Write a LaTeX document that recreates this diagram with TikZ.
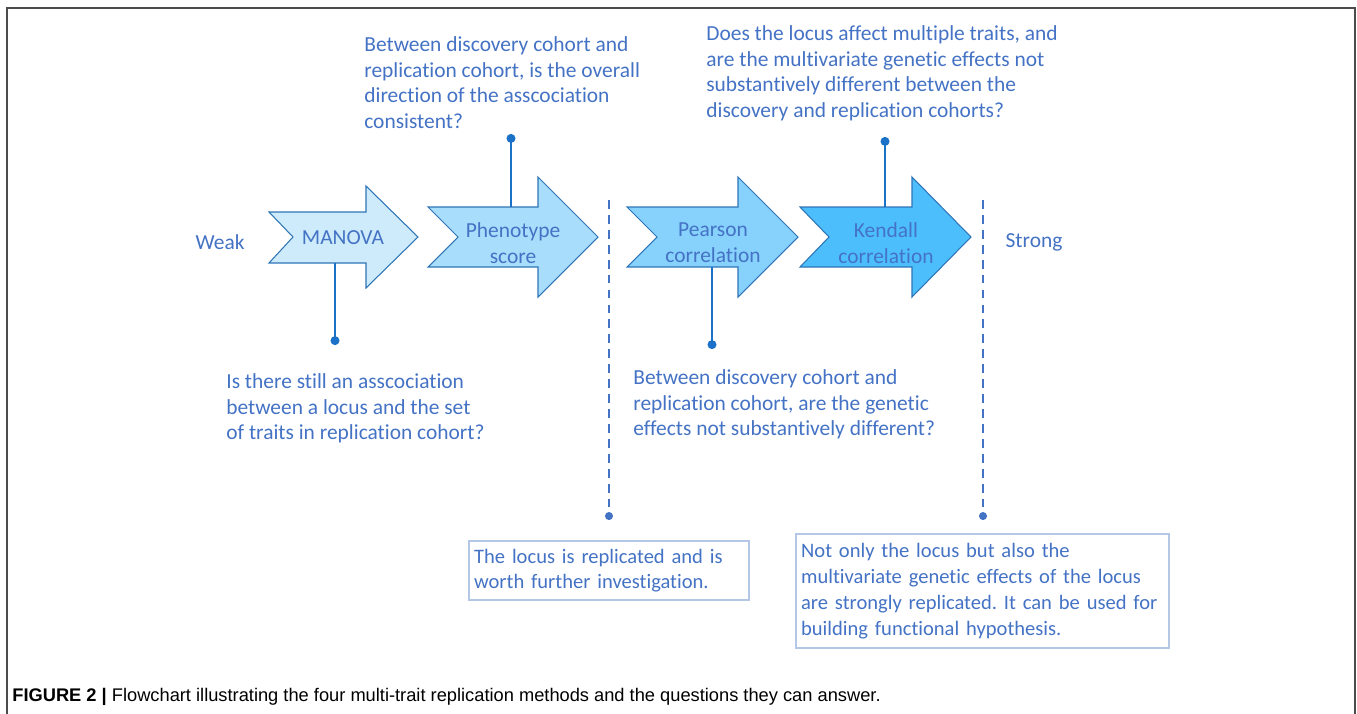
\documentclass[tikz,border=0pt]{standalone}
\usepackage{fontspec}
\setmainfont{Carlito}[Ligatures=NoCommon]
\newfontfamily\capfont{Liberation Sans}
\usepackage{xcolor}
\usetikzlibrary{positioning,arrows.meta}
\definecolor{txtblue}{HTML}{4472C4}
\definecolor{edgeblue}{HTML}{2E75B6}
\definecolor{stemblue}{HTML}{1B70C8}
\definecolor{boxblue}{HTML}{B4C7E7}
\definecolor{fillA}{HTML}{CDEBFB}
\definecolor{fillB}{HTML}{A8DDFB}
\definecolor{fillC}{HTML}{87D1FD}
\definecolor{fillD}{HTML}{4DBEFC}
\frenchspacing

\begin{document}
\begin{tikzpicture}[x=0.02cm,y=-0.02cm,font=\fontsize{12.2}{14.7}\selectfont,text=txtblue,
	flow/.style={draw=edgeblue,line width=0.6pt},
	label/.style={align=center,inner sep=0pt},
	question/.style={align=left,anchor=north west,inner sep=0pt},
	stem/.style={draw=stemblue,line width=1.7pt,-{Circle[length=5pt]}},
	divider/.style={draw=txtblue,line width=1.1pt,dash pattern=on 5pt off 3.5pt,-{Circle[length=4.5pt]}},
	result/.style={draw=boxblue,line width=1.3pt,align=left,anchor=north west,inner xsep=0.1cm,inner ysep=0pt,font=\fontsize{11.7}{14.7}\selectfont}]
	\useasboundingbox (0,0) rectangle (1357,714);
	% frame
	\draw[gray!60!black,line width=1pt] (7,714) -- (7,8) -- (1355,8) -- (1355,714);

	% the four methods
	\draw[flow,fill=fillA] (269,212) -- (366,212) -- (366,186) -- (418,237) -- (366,288) -- (366,263) -- (269,263) -- (293,237) -- cycle;
	\draw[flow,fill=fillB] (428,207) -- (538,207) -- (538,177) -- (598,237) -- (538,297) -- (538,267) -- (428,267) -- (458,237) -- cycle;
	\draw[flow,fill=fillC] (627,207) -- (738,207) -- (738,177) -- (798,237) -- (738,297) -- (738,267) -- (627,267) -- (657,237) -- cycle;
	\draw[flow,fill=fillD] (800,207) -- (912,207) -- (912,177) -- (971,237) -- (912,297) -- (912,267) -- (800,267) -- (829,237) -- cycle;

	\node[label] (manova) at (343,238) {MANOVA};
	\node[label] (pheno) at (513,243) {Phenotype\\score};
	\node[label] (pearson) at (713,243) {Pearson\\correlation};
	\node[label] (kendall) at (886,243) {Kendall\\correlation};

	\node (weak) at (220,242) {Weak};
	\node (strong) at (1034,242) {Strong};

	% questions
	\node[question] (q-pheno) at (364,36) {Between discovery cohort and\\replication cohort, is the overall\\direction of the asscociation\\consistent?};
	\node[question] (q-kendall) at (706,25) {Does the locus affect multiple traits, and\\are the multivariate genetic effects not\\substantively different between the\\discovery and replication cohorts?};
	\node[question] (q-manova) at (226,373) {Is there still an asscociation\\between a locus and the set\\of traits in replication cohort?};
	\node[question] (q-pearson) at (633,369) {Between discovery cohort and\\replication cohort, are the genetic\\effects not substantively different?};

	\coordinate (manova-s) at (335,263);
	\coordinate (manova-d) at (335,345);
	\coordinate (pheno-s) at (511,207);
	\coordinate (pheno-d) at (511,134);
	\coordinate (pearson-s) at (712,267);
	\coordinate (pearson-d) at (712,349);
	\coordinate (kendall-s) at (885,207);
	\coordinate (kendall-d) at (885,137);
	\draw[stem] (manova-s) -- (manova-d);
	\draw[stem] (pheno-s) -- (pheno-d);
	\draw[stem] (pearson-s) -- (pearson-d);
	\draw[stem] (kendall-s) -- (kendall-d);

	% thresholds
	\coordinate (cut1) at (609,200);
	\coordinate (cut1-d) at (609,520);
	\coordinate (cut2) at (983,200);
	\coordinate (cut2-d) at (983,520);
	\draw[divider] (cut1) -- (cut1-d);
	\draw[divider] (cut2) -- (cut2-d);

	\node[result,minimum width=5.6cm,minimum height=1.18cm,text width=5.4cm] (r1) at (468,540) {The locus is replicated and is\\worth further investigation.};
	\node[result,minimum width=7.46cm,minimum height=2.28cm,text width=7.26cm] (r2) at (795,533) {Not only the locus but also the\\multivariate genetic effects of the locus\\are strongly replicated. It can be used for\\building functional hypothesis.};

	\node[anchor=west,inner sep=0pt,text=black,font=\capfont\fontsize{10.4}{12}\selectfont] (caption) at (12,697) {\textbf{FIGURE 2 |} Flowchart illustrating the four multi-trait replication methods and the questions they can answer.};
\end{tikzpicture}
\end{document}
